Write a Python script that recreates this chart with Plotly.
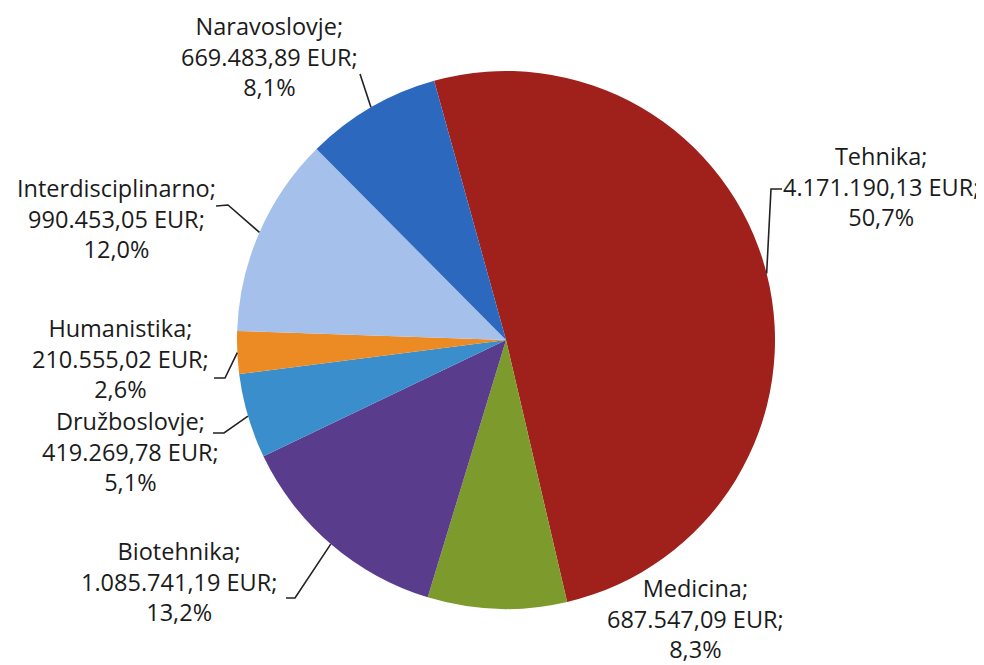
import math
import plotly.graph_objects as go

# ---------------- data ----------------
categories = ["Tehnika", "Medicina", "Biotehnika", "Družboslovje",
              "Humanistika", "Interdisciplinarno", "Naravoslovje"]
values = [4171190.13, 687547.09, 1085741.19, 419269.78,
          210555.02, 990453.05, 669483.89]
currency = "EUR"

# ---------------- style / layout ----------------
colors = ["#A0201C", "#7D9B2C", "#5A3C8C", "#3B8ECC",
          "#EC8A24", "#A5C0EB", "#2C68BE"]
W, H = 984, 665
CX, CY, R = 498, 332, 269          # pie centre and radius in pixels
ROTATION = -15.5                   # start angle of first slice (clockwise from 12 o'clock)
FONT = dict(family="Open Sans, sans-serif", size=23.5, color="#1b1b1b")
DY = -9                            # vertical correction of annotation boxes

# label placement (pixels): text centre, text-side end of leader, elbow of leader
label_layout = {
    "Tehnika":            dict(pos=(873, 187), end=(774, 181), elbow=(763, 181)),
    "Medicina":           dict(pos=(687, 619), end=None,       elbow=None),
    "Biotehnika":         dict(pos=(171, 582), end=(278, 590), elbow=(287, 590)),
    "Družboslovje":       dict(pos=(122, 452), end=(205, 425), elbow=(216, 425)),
    "Humanistika":        dict(pos=(112, 359), end=(206, 370), elbow=(217, 370)),
    "Interdisciplinarno": dict(pos=(108, 220), end=(208, 198), elbow=(220, 197)),
    "Naravoslovje":       dict(pos=(261, 57),  end=(352, 66),  elbow=None),
}


def fmt_num(v):
    s = f"{v:,.2f}"
    return s.replace(",", "X").replace(".", ",").replace("X", ".")


def px(x, y):
    return x / W, 1 - y / H


total = sum(values)

fig = go.Figure(go.Pie(
    labels=categories,
    values=values,
    sort=False,
    direction="clockwise",
    rotation=ROTATION,
    textinfo="none",
    hoverinfo="label+value+percent",
    marker=dict(colors=colors, line=dict(width=0)),
    domain=dict(x=[(CX - R) / W, (CX + R) / W],
                y=[1 - (CY + R) / H, 1 - (CY - R) / H]),
    showlegend=False,
))

annotations = []
shapes = []
cum = 0.0
for name, v in zip(categories, values):
    mid = math.radians(ROTATION + 360.0 * (cum + v / 2) / total)
    cum += v
    pct = f"{100 * v / total:.1f}".replace(".", ",")
    text = f"{name};<br>{fmt_num(v)} {currency};<br>{pct}%"
    lay = label_layout[name]
    ax, ay = px(lay["pos"][0], lay["pos"][1] + DY)
    annotations.append(dict(x=ax, y=ay, xref="paper", yref="paper", text=text,
                            showarrow=False, xanchor="center", yanchor="middle",
                            align="center", font=FONT, borderpad=0))
    if lay["end"] is not None:
        ex = CX + R * math.sin(mid)
        ey = CY - R * math.cos(mid)
        pts = [(ex, ey)]
        if lay["elbow"] is not None:
            pts.append(lay["elbow"])
        pts.append(lay["end"])
        path = ""
        for i, (x, y) in enumerate(pts):
            X, Y = px(x, y)
            path += ("M" if i == 0 else " L") + f" {X:.5f} {Y:.5f}"
        shapes.append(dict(type="path", path=path, xref="paper", yref="paper",
                           line=dict(color="#222222", width=1.6)))

fig.update_layout(
    width=W, height=H,
    margin=dict(l=0, r=0, t=0, b=0),
    paper_bgcolor="white",
    plot_bgcolor="white",
    annotations=annotations,
    shapes=shapes,
)

fig.write_html("out.html")
